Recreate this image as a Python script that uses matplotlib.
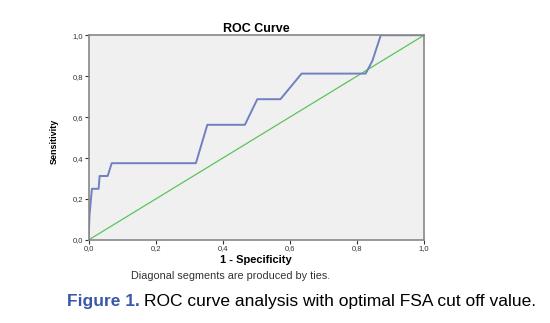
import matplotlib.pyplot as plt

# ROC 곡선 좌표
fpr = [0.0, 0.003, 0.01, 0.03, 0.033, 0.057, 0.069, 0.32, 0.354, 0.466, 0.503,
       0.572, 0.635, 0.826, 0.846, 0.871, 1.0]
tpr = [0.0, 0.125, 0.25, 0.25, 0.3125, 0.3125, 0.375, 0.375, 0.5625, 0.5625, 0.6875,
       0.6875, 0.8125, 0.8125, 0.875, 1.0, 1.0]
ref_line = [0.0, 1.0]
ticks = [0.0, 0.2, 0.4, 0.6, 0.8, 1.0]
tick_labels = ['0,0', '0,2', '0,4', '0,6', '0,8', '1,0']

plt.rcParams['font.family'] = ['Liberation Sans', 'DejaVu Sans']

fig = plt.figure(figsize=(5.5, 3.23), dpi=100)
ax = fig.add_axes([0.161, 0.257, 0.610, 0.634])
ax.set_facecolor('#f0f0f0')

ax.plot(ref_line, ref_line, color='#5cc35c', linewidth=0.9)
ax.plot(fpr, tpr, color='#7080c0', linewidth=1.4)

ax.set_xlim(0, 1)
ax.set_ylim(0, 1)
ax.set_xticks(ticks)
ax.set_xticklabels(tick_labels)
ax.set_yticks(ticks)
ax.set_yticklabels(tick_labels)
ax.tick_params(labelsize=5.5, colors='#333333', length=3, width=0.8, pad=1)
for s in ax.spines.values():
    s.set_color('#888888')
    s.set_linewidth(1.2)

ax.set_title('ROC Curve', fontsize=9, fontweight='bold', pad=2)
ax.set_xlabel('1 - Specificity', fontsize=8, fontweight='bold', labelpad=2)
fig.text(0.098, 0.563, 'Sensitivity', rotation=90, fontsize=6.5, fontweight='bold',
         ha='center', va='center')

fig.text(0.42, 0.146, 'Diagonal segments are produced by ties.', fontsize=7.8,
         color='#333333', ha='center', va='center')

# 캡션: 파란 "Figure 1." 뒤에 바로 검정 문장
t1 = fig.text(0.121, 0.068, 'Figure 1.', fontsize=12.5, color='#3a58a8',
              fontweight='bold', ha='left', va='center')
fig.canvas.draw()
bb = t1.get_window_extent()
x2 = (bb.x1 + 5) / fig.bbox.width
fig.text(x2, 0.068, 'ROC curve analysis with optimal FSA cut off value.', fontsize=12.5,
         color='black', ha='left', va='center')

plt.savefig('out.png', dpi=100)
